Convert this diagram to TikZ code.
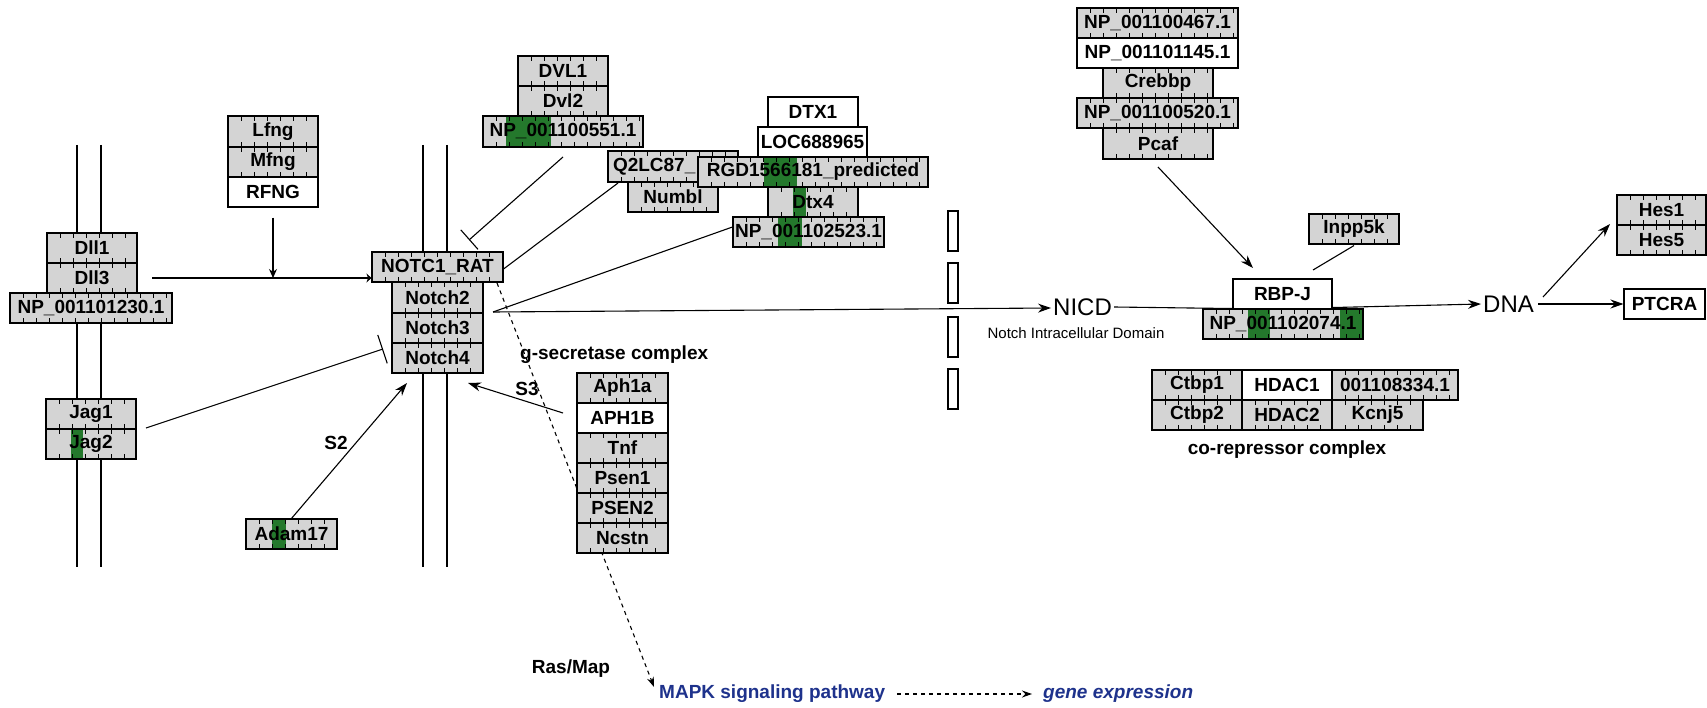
\documentclass[tikz,border=0pt]{standalone}
\usepackage{fontspec}
\setmainfont{Liberation Sans}
\usetikzlibrary{arrows.meta}
\definecolor{kgray}{RGB}{212,212,212}
\definecolor{kgreen}{RGB}{36,120,44}
\definecolor{kblue}{RGB}{30,50,140}
\newcommand{\kfont}{\bfseries\fontsize{19}{19}\selectfont}
\newcommand{\kticks}{\foreach \k in {13,26,...,260}{\draw[line width=0.7pt] ([xshift=\k pt]path picture bounding box.north west) -- ++(0,-5pt) ([xshift=\k pt]path picture bounding box.south west) -- ++(0,5pt);}}
\newcommand{\kb}[7]{\node[#1, minimum width={#4-#3}, minimum height={#6-#5}] (#2) at ({(#3+#4)/2},{(#5+#6)/2}) {#7};}
\begin{document}
\begin{tikzpicture}[x=1pt,y=-1pt,
  gbox/.style={draw, fill=kgray, line width=1.1pt, inner sep=0pt, font=\kfont, path picture={\kticks}},
  gboxg/.style={gbox, path picture={\foreach \pa/\pb in {#1}{\fill[kgreen] ([xshift=\pa pt]path picture bounding box.south west) rectangle ([xshift=\pb pt]path picture bounding box.north west);}\kticks}},
  wbox/.style={draw, fill=white, line width=1.1pt, inner sep=0pt, font=\kfont},
  lab/.style={font=\kfont, inner sep=2pt},
  memb/.style={line width=1.2pt},
  con/.style={line width=1.1pt},
  act/.style={con, -{Stealth[length=13pt,width=9pt]}},
  inh/.style={con, -{Bar[width=26pt,line width=1.1pt]}},
  dsh/.style={con, dash pattern=on 4pt off 4pt}]
\fill[white] (0,0) rectangle (1707,708);
\useasboundingbox (0,0) rectangle (1707,708);

% membranes
\draw[memb] (77,145) -- (77,567);
\draw[memb] (101,145) -- (101,567);
\draw[memb] (423,145) -- (423,567);
\draw[memb] (447,145) -- (447,567);
\foreach \ya/\yb in {211/251,263/303,317/357,369/409}
  \draw[line width=1.1pt, fill=white] (948,\ya) rectangle (958,\yb);

% free labels
\node[lab, anchor=west] (gsec) at (518,355) {g-secretase complex};
\node[lab] (s2) at (336,443) {S2};
\node[lab] (s3) at (527,389) {S3};
\node[lab] (ras) at (571,669) {Ras/Map};
\node[lab, anchor=west, text=kblue] (mapk) at (657,694) {MAPK signaling pathway};
\node[lab, anchor=west, text=kblue, font=\kfont\itshape] (gene) at (1041,694) {gene expression};
\node[lab] (corep) at (1287,450) {co-repressor complex};
\node[anchor=west, inner sep=2pt, font=\fontsize{24}{24}\selectfont] (nicd) at (1051,307) {NICD};
\node[inner sep=1pt, font=\fontsize{15}{15}\selectfont] (nicdlab) at (1076,333) {Notch Intracellular Domain};
\node[anchor=west, inner sep=2pt, font=\fontsize{24}{24}\selectfont] (dna) at (1481,304) {DNA};

% dashed line behind the g-secretase boxes
\coordinate (cds) at (497,283);
\coordinate (cde) at (654,687);
\draw[dsh, -{Stealth[length=10pt,width=7pt]}] (cds) -- (cde);

% left ligand cell
\kb{gbox}{lfng}{228}{318}{116}{147}{Lfng}
\kb{gbox}{mfng}{228}{318}{147}{177}{Mfng}
\kb{wbox}{rfng}{228}{318}{177}{207}{RFNG}
\kb{gbox}{dll1}{47}{137}{233}{263}{Dll1}
\kb{gbox}{dll3}{47}{137}{263}{293}{Dll3}
\kb{gbox}{np230}{10}{172}{293}{323}{NP\_001101230.1}
\kb{gbox}{jag1}{46}{136}{399}{429}{Jag1}
\kb{gboxg={25/37}}{jag2}{46}{136}{429}{459}{Jag2}
\kb{gboxg={26/40}}{adam}{246}{337}{519}{549}{Adam17}

% Notch receptors
\kb{gbox}{notc1}{372}{503}{252}{282}{NOTC1\_RAT}
\kb{gbox}{notch2}{392}{483}{282}{313}{Notch2}
\kb{gbox}{notch3}{392}{483}{313}{343}{Notch3}
\kb{gbox}{notch4}{392}{483}{343}{373}{Notch4}

% Dvl group
\kb{gbox}{dvl1}{518}{608}{56}{86}{DVL1}
\kb{gbox}{dvl2}{518}{608}{86}{116}{Dvl2}
\kb{gboxg={23/68}}{np551}{483}{643}{116}{147}{NP\_001100551.1}

% Numb / Deltex group
\kb{gbox, text width=120pt, align=left}{q2lc}{608}{738}{151}{182}{Q2LC87\_}
\kb{gbox}{numbl}{628}{718}{182}{212}{Numbl}
\kb{wbox}{dtx1}{768}{858}{97}{127}{DTX1}
\kb{wbox}{loc}{758}{867}{127}{157}{LOC688965}
\kb{gboxg={66/99}}{rgd}{698}{928}{157}{187}{RGD1566181\_predicted}
\kb{gboxg={25/38}}{dtx4}{768}{858}{187}{217}{Dtx4}
\kb{gboxg={45/69}}{np523}{733}{884}{217}{247}{NP\_001102523.1}

% g-secretase complex
\kb{gbox}{aph1a}{577}{668}{373}{403}{Aph1a}
\kb{wbox}{aph1b}{577}{668}{403}{433}{APH1B}
\kb{gbox}{tnf}{577}{668}{433}{463}{Tnf}
\kb{gbox}{psen1}{577}{668}{463}{493}{Psen1}
\kb{gbox}{psen2}{577}{668}{493}{523}{PSEN2}
\kb{gbox}{ncstn}{577}{668}{523}{553}{Ncstn}

% co-activators
\kb{gbox}{np467}{1077}{1238}{8}{38}{NP\_001100467.1}
\kb{wbox}{np145}{1077}{1238}{38}{68}{NP\_001101145.1}
\kb{gbox}{crebbp}{1103}{1213}{68}{98}{Crebbp}
\kb{gbox}{np520}{1077}{1238}{98}{128}{NP\_001100520.1}
\kb{gbox}{pcaf}{1103}{1213}{128}{159}{Pcaf}
\kb{gbox}{inpp}{1309}{1399}{214}{244}{Inpp5k}

% CSL
\kb{wbox}{rbpj}{1233}{1332}{279}{309}{RBP-J}
\kb{gboxg={{45/67,137/160}}}{np074}{1203}{1363}{309}{339}{NP\_001102074.1}

% co-repressor complex
\kb{gbox}{ctbp1}{1152}{1242}{370}{400}{Ctbp1}
\kb{wbox}{hdac1}{1242}{1332}{370}{400}{HDAC1}
\kb{gbox}{np334}{1332}{1458}{370}{400}{001108334.1}
\kb{gbox}{ctbp2}{1152}{1242}{400}{430}{Ctbp2}
\kb{gbox}{hdac2}{1242}{1332}{400}{430}{HDAC2}
\kb{gbox}{kcnj5}{1332}{1423}{400}{430}{Kcnj5}

% targets
\kb{gbox}{hes1}{1617}{1706}{195}{225}{Hes1}
\kb{gbox}{hes5}{1617}{1706}{225}{255}{Hes5}
\kb{wbox}{ptcra}{1624}{1705}{289}{319}{PTCRA}

% connectors
\coordinate (dllout) at (152,278);
\draw[con, -{Stealth[length=5pt,width=9pt]}] (dllout) -- (dllout -| notc1.west);
\draw[con, -{Stealth[length=9pt,width=8pt]}] ([yshift=-10pt]rfng.south) -- (rfng.south |- dllout);

\coordinate (c551) at (563,157);
\coordinate (c551e) at (469,240);
\draw[inh] (c551) -- (c551e);
\coordinate (cq2) at (618,183);
\draw[con] (cq2) -- ([yshift=-2pt]notc1.east);
\coordinate (cjn) at (493,312);
\draw[con] ([yshift=5pt]np523.west) -- (cjn);
\draw[act] (cjn) -- ([yshift=-1pt]nicd.west);

\coordinate (cjag) at (146,428);
\coordinate (cjage) at (383,349);
\draw[con, -{Bar[width=30pt,line width=1.1pt]}] (cjag) -- (cjage);
\coordinate (cs2) at (407,383);
\draw[act] (adam.north) -- (cs2);
\coordinate (cs3s) at (563,413);
\coordinate (cs3e) at (468,383);
\draw[act] (cs3s) -- (cs3e);

\draw[dsh, -{Stealth[length=10pt,width=7pt]}] ([xshift=10pt]mapk.east) -- ([xshift=-9pt]gene.west);

\coordinate (cpc) at (1158,167);
\coordinate (cpce) at (1253,268);
\draw[act] (cpc) -- (cpce);
\coordinate (cinp) at (1313,270);
\draw[con] ([yshift=-1pt]inpp.south) -- (cinp);
\draw[con] (nicd.east) -- ([yshift=1pt]rbpj.south west);
\draw[act] ([yshift=2pt]rbpj.south east) -- (dna.west);
\coordinate (cdh) at (1543,297);
\coordinate (cdhe) at (1610,224);
\draw[act] (cdh) -- (cdhe);
\draw[act] ([xshift=2pt]dna.east) -- (ptcra.west);
\end{tikzpicture}
\end{document}
